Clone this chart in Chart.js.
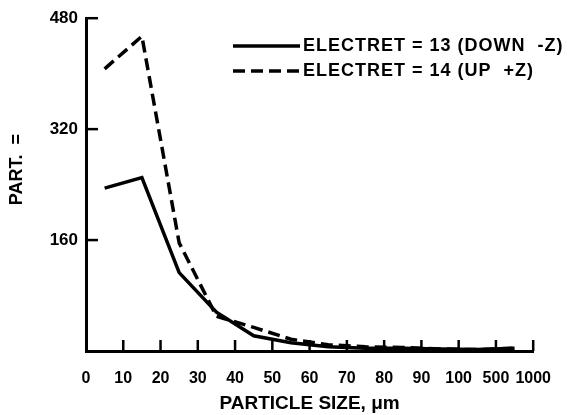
<!DOCTYPE html>
<html>
<head>
<meta charset="utf-8">
<script src="https://cdn.jsdelivr.net/npm/chart.js@4"></script>
<style>
  html, body { margin: 0; padding: 0; background: #fff; }
  #wrap { width: 569px; height: 415px; }
</style>
</head>
<body>
<div id="wrap"><canvas id="chart" width="569" height="415"></canvas></div>
<script>
// Classes de tamanho (eixo x nao linear)
const sizeLabels = ['0', '10', '20', '30', '40', '50', '60', '70', '80', '90', '100', '500', '1000'];
// Valores, um por classe (centro da classe)
const electret13 = [235, 250, 113, 56, 22, 12, 6, 4, 4, 3, 2, 4];
const electret14 = [407, 454, 156, 50, 34, 17, 9, 6, 5, 3, 2, 4];
const yTicks = [160, 320, 480];

const FONT = 'Liberation Sans, Arial, sans-serif';

function toPoints(values) {
    return values.map((v, i) => ({ x: i + 0.5, y: v }));
}

// marcas de escala para dentro + legenda
const decorPlugin = {
    id: 'decor',
    afterDraw(chart) {
        const ctx = chart.ctx;
        const xs = chart.scales.x;
        const ys = chart.scales.y;
        ctx.save();
        ctx.strokeStyle = '#000';
        ctx.lineWidth = 2.5;
        ctx.setLineDash([]);
        sizeLabels.forEach((l, i) => {
            if (i === 0) return;
            const px = xs.getPixelForValue(i);
            ctx.beginPath();
            ctx.moveTo(px, ys.bottom);
            ctx.lineTo(px, ys.bottom - 11);
            ctx.stroke();
        });
        yTicks.forEach(v => {
            const py = ys.getPixelForValue(v);
            ctx.beginPath();
            ctx.moveTo(xs.left, py);
            ctx.lineTo(xs.left + 12, py);
            ctx.stroke();
        });

        // legenda
        const x0 = 233, x1 = 300;
        const rows = [46, 71];
        chart.data.datasets.forEach((ds, i) => {
            const y = rows[i];
            ctx.lineWidth = 3.5;
            ctx.setLineDash(ds.borderDash || []);
            ctx.beginPath();
            ctx.moveTo(x0, y);
            ctx.lineTo(x1, y);
            ctx.stroke();
            ctx.setLineDash([]);
            ctx.fillStyle = '#000';
            ctx.font = 'bold 18px ' + FONT;
            ctx.letterSpacing = '1px';
            ctx.textBaseline = 'middle';
            ctx.fillText(ds.label, x1 + 3, y);
        });
        ctx.restore();
    }
};

new Chart(document.getElementById('chart'), {
    type: 'line',
    data: {
        datasets: [{
            label: 'ELECTRET = 13 (DOWN  -Z)',
            data: toPoints(electret13),
            borderColor: '#000',
            backgroundColor: '#000',
            borderWidth: 3.5,
            pointRadius: 0,
            tension: 0
        }, {
            label: 'ELECTRET = 14 (UP  +Z)',
            data: toPoints(electret14),
            borderColor: '#000',
            backgroundColor: '#000',
            borderWidth: 3.5,
            borderDash: [12, 6],
            pointRadius: 0,
            tension: 0
        }]
    },
    options: {
        responsive: false,
        animation: false,
        layout: { padding: { left: 0, right: 31, top: 15, bottom: 0 } },
        plugins: {
            legend: { display: false },
            tooltip: { enabled: false }
        },
        scales: {
            x: {
                type: 'linear',
                min: 0,
                max: sizeLabels.length - 1,
                afterFit(scale) { scale.height = 64; },
                afterBuildTicks(scale) {
                    scale.ticks = sizeLabels.map((l, i) => ({ value: i }));
                },
                grid: { display: false, drawTicks: false },
                border: { display: true, color: '#000', width: 3 },
                ticks: {
                    color: '#000',
                    padding: 18,
                    maxRotation: 0,
                    autoSkip: false,
                    font: { family: FONT, size: 16, weight: 'bold' },
                    callback: (v) => sizeLabels[v]
                },
                title: {
                    display: true,
                    text: 'PARTICLE SIZE, μm',
                    color: '#000',
                    padding: { top: 1, bottom: 0 },
                    font: { family: FONT, size: 19, weight: 'bold' }
                }
            },
            y: {
                min: 0,
                max: 480,
                afterFit(scale) { scale.width = 86; },
                afterBuildTicks(scale) {
                    scale.ticks = [0].concat(yTicks).map(v => ({ value: v }));
                },
                grid: { display: false, drawTicks: false },
                border: { display: true, color: '#000', width: 3 },
                ticks: {
                    color: '#000',
                    padding: 8,
                    font: { family: FONT, size: 17, weight: 'bold' },
                    callback: (v) => (v === 0 ? '' : v)
                },
                title: {
                    display: true,
                    text: '      PART.  =',
                    color: '#000',
                    padding: { top: 6, bottom: 10 },
                    font: { family: FONT, size: 18, weight: 'bold' }
                }
            }
        }
    },
    plugins: [decorPlugin]
});
</script>
</body>
</html>
